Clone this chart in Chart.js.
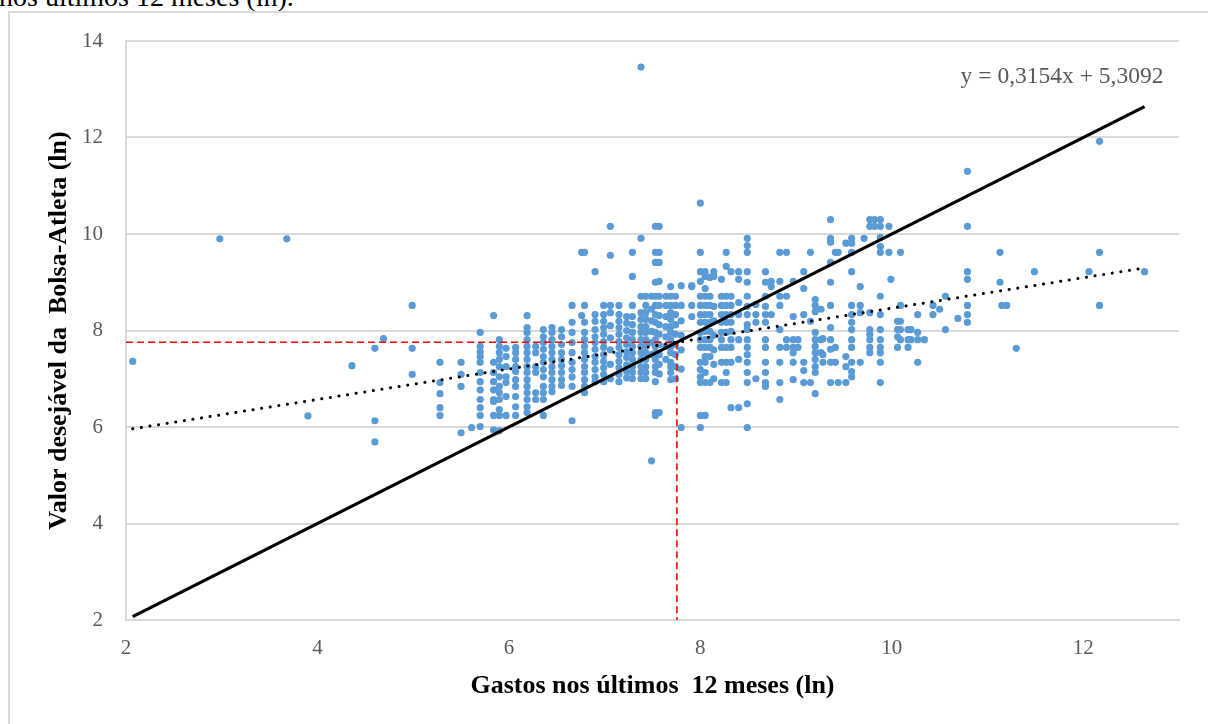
<!DOCTYPE html>
<html>
<head>
<meta charset="utf-8">
<script src="https://cdn.jsdelivr.net/npm/chart.js@4.4.1/dist/chart.umd.min.js"></script>
<style>
  html, body { margin:0; padding:0; background:#fff; width:1208px; height:724px; overflow:hidden; }
  #wrap { position:relative; width:1208px; height:724px; }
  #caption { position:absolute; left:-1px; top:-17px; font-family:"Liberation Serif", serif; font-size:28px; line-height:28px; color:#000; white-space:nowrap; }
  #frame { position:absolute; left:8px; top:11px; width:1300px; height:900px; border:2px solid #d9d9d9; box-sizing:border-box; }
  canvas { position:absolute; left:0; top:0; }
</style>
</head>
<body>
<div id="wrap">
  <div id="caption">nos últimos 12 meses (ln).</div>
  <div id="frame"></div>
  <canvas id="c" width="1208" height="724"></canvas>
</div>
<script>
// x values (ln of spending), each with its column of y values (ln of desired grant)
const gastosCols = [
  2.07, 2.98, 3.68, 3.90, 4.36, 4.60, 4.69, 4.99, 5.28, 5.50, 5.61, 5.70, 5.84, 5.90, 5.97,
  6.07, 6.19, 6.28, 6.36, 6.45, 6.55, 6.66, 6.76, 6.79, 6.90, 6.99, 7.06, 7.15, 7.23, 7.29,
  7.38, 7.43, 7.49, 7.53, 7.57, 7.64, 7.69, 7.74, 7.80, 7.91, 8.00, 8.05, 8.10, 8.14, 8.22,
  8.27, 8.32, 8.40, 8.49, 8.58, 8.68, 8.74, 8.83, 8.90, 8.97, 9.02, 9.08, 9.15, 9.20, 9.26,
  9.28, 9.36, 9.41, 9.44, 9.52, 9.58, 9.67, 9.71, 9.77, 9.82, 9.88, 9.97, 9.99, 10.06, 10.09,
  10.17, 10.20, 10.27, 10.34, 10.43, 10.50, 10.56, 10.69, 10.79, 11.13, 11.15, 11.20, 11.30, 11.49,
  12.06, 12.17, 12.64
];
const valorCols = [
  [7.36], [9.90], [9.90], [6.23], [7.27], [7.63, 6.13, 5.69], [7.83], [8.52, 7.63, 7.09],
  [7.34, 6.92, 6.69, 6.40, 6.24], [7.34, 7.09, 6.84, 5.88], [5.99],
  [7.96, 7.67, 7.56, 7.46, 7.34, 7.13, 6.94, 6.77, 6.57, 6.40, 6.24, 6.01],
  [8.31, 7.34, 7.13, 6.94, 6.77, 6.57, 6.53, 6.24, 5.94],
  [7.81, 7.67, 7.54, 7.40, 7.25, 7.04, 6.84, 6.71, 6.57, 6.36, 6.24, 5.92],
  [7.63, 7.46, 7.25, 7.04, 6.92, 6.63, 6.24],
  [7.65, 7.54, 7.40, 7.25, 7.15, 6.98, 6.84, 6.63, 6.42, 6.24],
  [8.31, 8.06, 7.96, 7.81, 7.67, 7.54, 7.40, 7.25, 7.13, 6.98, 6.84, 6.71, 6.57, 6.42, 6.30],
  [7.67, 7.54, 7.25, 7.13, 6.71, 6.57],
  [8.02, 7.87, 7.75, 7.61, 7.46, 7.34, 7.19, 7.04, 6.84, 6.71, 6.57, 6.24],
  [8.06, 7.96, 7.81, 7.67, 7.54, 7.40, 7.25, 7.13, 6.98, 6.84, 6.73],
  [8.02, 7.87, 7.71, 7.54, 7.40, 7.27, 7.13, 6.98, 6.86],
  [8.52, 8.17, 7.96, 7.75, 7.54, 7.34, 7.19, 7.04, 6.84, 6.13],
  [9.62, 8.31],
  [9.62, 8.52, 8.17, 7.96, 7.81, 7.67, 7.54, 7.40, 7.25, 7.13, 6.98, 6.84, 6.71],
  [9.22, 8.33, 8.19, 8.02, 7.87, 7.75, 7.61, 7.46, 7.34, 7.19, 7.04, 6.94],
  [8.52, 8.33, 8.19, 8.06, 7.92, 7.77, 7.65, 7.50, 7.36, 7.23, 7.09, 6.94],
  [10.16, 9.56, 8.52, 8.37, 8.10, 7.85, 7.60, 7.30, 7.00],
  [8.52, 8.33, 8.19, 8.06, 7.92, 7.77, 7.65, 7.50, 7.36, 7.23, 7.09, 6.94],
  [8.29, 8.15, 8.00, 7.85, 7.71, 7.56, 7.44, 7.29, 7.15, 7.02],
  [9.62, 9.12, 8.52, 8.29, 8.12, 7.96, 7.81, 7.67, 7.54, 7.40, 7.25, 7.13, 7.00],
  [13.46, 9.91, 8.71, 8.37, 8.23, 8.08, 7.96, 7.81, 7.67, 7.54, 7.40, 7.25, 7.13, 7.00],
  [8.71, 8.52, 8.37, 8.23, 8.08, 7.96, 7.81, 7.67, 7.54, 7.40, 7.25, 7.13, 7.00],
  [8.71, 8.44, 8.20, 7.98, 7.75, 7.50, 5.30],
  [10.16, 9.62, 9.41, 9.00, 8.71, 8.52, 8.33, 8.17, 7.96, 7.81, 7.67, 7.54, 7.40, 7.25, 7.13, 6.94, 6.30, 6.24],
  [10.16, 9.62, 9.41, 9.02, 8.71, 8.52, 8.31, 8.12, 7.92, 7.71, 7.50, 7.30, 7.10, 6.30],
  [8.71, 8.52, 8.29, 8.08, 7.87, 7.67, 7.40],
  [8.91, 8.71, 8.52, 8.37, 8.23, 8.08, 7.96, 7.81, 7.67, 7.54, 7.34, 7.25, 7.13, 6.98],
  [8.71, 8.52, 8.33, 8.12, 7.92, 7.71, 7.50, 7.25, 7.00],
  [8.93, 8.52, 8.20, 7.90, 7.60, 7.20, 5.99],
  [8.93, 8.91, 8.52, 8.29],
  [10.64, 9.62, 9.22, 9.02, 8.71, 8.52, 8.33, 8.17, 7.96, 7.81, 7.65, 7.34, 7.19, 7.04, 6.92, 6.24, 5.99],
  [9.22, 9.12, 8.87, 8.71, 8.52, 8.33, 8.17, 7.98, 7.81, 7.65, 7.46, 7.34, 7.13, 6.92, 6.24],
  [9.10, 8.71, 8.52, 8.33, 8.17, 7.98, 7.81, 7.65, 7.46, 6.92],
  [9.22, 9.12, 8.50, 8.20, 7.90, 7.60, 7.30, 7.00],
  [9.06, 8.71, 8.52, 8.33, 8.17, 7.96, 7.81, 7.65, 7.34, 6.92],
  [9.62, 9.33, 8.71, 8.52, 8.33, 8.17, 7.96, 7.65, 7.34, 7.13, 6.92],
  [9.22, 8.71, 8.52, 8.33, 8.17, 7.98, 7.81, 7.65, 7.34, 6.40],
  [9.22, 9.06, 8.58, 8.33, 7.81, 7.40, 6.40],
  [9.91, 9.76, 9.62, 9.22, 9.00, 8.71, 8.50, 8.33, 8.12, 8.02, 7.81, 7.65, 7.50, 7.34, 7.13, 6.92, 6.48, 5.99],
  [8.54, 8.33, 8.17, 7.00],
  [9.22, 9.00, 8.71, 8.50, 8.33, 8.17, 7.81, 7.65, 7.34, 7.13, 6.92, 6.84],
  [9.02, 8.91, 8.33],
  [9.62, 9.02, 8.71, 8.52, 8.02, 7.65, 7.34, 6.92, 6.57],
  [9.62, 8.71, 7.81, 7.65],
  [9.02, 8.29, 7.81, 7.65, 7.54, 7.34, 6.98],
  [7.81, 7.65],
  [9.22, 8.87, 8.33, 7.34, 7.17, 6.92],
  [9.62, 8.19, 6.92],
  [8.64, 8.52, 8.39, 7.96, 7.81, 7.67, 7.54, 7.40, 7.25, 7.13, 6.69],
  [8.44, 7.81, 7.54],
  [7.83, 7.50, 7.34],
  [10.30, 9.91, 9.83, 9.41, 9.00, 8.52, 8.06, 7.81, 7.61, 7.34, 6.92],
  [9.62, 7.65, 7.34],
  [9.62, 6.92],
  [9.81, 7.46, 7.25, 6.92],
  [9.91, 9.81, 9.62, 9.22, 8.52, 8.33, 8.17, 8.02, 7.81, 7.65, 7.34, 7.15, 7.04],
  [8.91, 8.52, 8.37, 7.34],
  [9.91],
  [10.30, 10.16, 8.37, 8.02, 7.92, 7.81, 7.65, 7.54],
  [10.30, 10.16],
  [10.30, 10.16, 9.93, 9.74, 9.62, 8.71, 8.33, 8.02, 7.81, 7.65, 7.54, 7.34, 6.92],
  [10.16, 9.62],
  [9.06],
  [8.19, 8.02, 7.87, 7.65],
  [9.62, 8.52, 8.19, 8.02, 7.81],
  [8.02, 7.81, 7.65],
  [8.02, 7.81],
  [8.33, 7.96, 7.81, 7.34],
  [7.81],
  [8.52, 8.33],
  [8.44],
  [8.71, 8.02],
  [8.25],
  [11.30, 10.16, 9.22, 9.06, 8.52, 8.33, 8.17],
  [9.62, 9.00],
  [8.52],
  [8.52],
  [7.63],
  [9.22],
  [9.22],
  [11.92, 9.62, 8.52],
  [9.22]
];
// linear trendline from the picture's label
const trendSlope = 0.3154;
const trendIntercept = 5.3092;
const trendLabel = 'y = 0,3154x + 5,3092';
// axis texts and ticks
const xTitle = 'Gastos nos últimos  12 meses (ln)';
const yTitle = 'Valor desejável da  Bolsa-Atleta (ln)';
const xTicks = [2, 4, 6, 8, 10, 12];
const yTicks = [2, 4, 6, 8, 10, 12, 14];

const points = [];
gastosCols.forEach((x, i) => valorCols[i].forEach(y => points.push({x: x, y: y})));
const xMin = Math.min(...gastosCols), xMax = Math.max(...gastosCols);
const trendPts = [xMin, xMax].map(x => ({x: x, y: trendSlope * x + trendIntercept}));
const identityPts = [xMin, xMax].map(x => ({x: x, y: x}));
const cross = trendIntercept / (1 - trendSlope);
const redH = [{x: xTicks[0], y: cross}, {x: cross, y: cross}];
const redV = [{x: cross, y: cross}, {x: cross, y: yTicks[0]}];

const serif = '"Liberation Serif", "Times New Roman", serif';

const eqPlugin = {
  id: 'eq',
  afterDraw(chart) {
    const ctx = chart.ctx;
    ctx.save();
    ctx.font = '23.5px ' + serif;
    ctx.fillStyle = '#595959';
    ctx.textAlign = 'center';
    ctx.textBaseline = 'middle';
    ctx.fillText(trendLabel, chart.chartArea.right - 117, 77);
    ctx.restore();
  }
};

new Chart(document.getElementById('c'), {
  type: 'scatter',
  data: {
    datasets: [
      { type: 'line', data: identityPts, borderColor: '#000', borderWidth: 3.2, pointRadius: 0, fill: false, order: 1 },
      { type: 'line', data: trendPts, borderColor: '#000', borderWidth: 3, borderDash: [0.1, 8.6], borderCapStyle: 'round', pointRadius: 0, fill: false, order: 2 },
      { type: 'line', data: redH, borderColor: '#ff0000', borderWidth: 1.6, borderDash: [7, 4], pointRadius: 0, fill: false, order: 3 },
      { type: 'line', data: redV, borderColor: '#ff0000', borderWidth: 1.6, borderDash: [7, 4], pointRadius: 0, fill: false, order: 3 },
      { data: points, backgroundColor: '#5b9bd5', borderWidth: 0, pointRadius: 3.6, order: 10 }
    ]
  },
  options: {
    responsive: false,
    animation: false,
    layout: { padding: { left: 0, top: 41, right: 29, bottom: 0 } },
    plugins: { legend: { display: false }, tooltip: { enabled: false } },
    scales: {
      x: {
        type: 'linear', min: 2, max: 13,
        afterBuildTicks: s => { s.ticks = xTicks.map(v => ({value: v})); },
        afterFit: s => { s.height = 104; },
        grid: { display: false, drawTicks: false },
        border: { display: true, color: '#d9d9d9', width: 2 },
        ticks: { padding: 16, color: '#595959', font: { family: serif, size: 21 } },
        title: { display: true, text: xTitle, color: '#000', font: { family: serif, size: 26, weight: 'bold' }, padding: { top: 0, bottom: 22 } }
      },
      y: {
        type: 'linear', min: 2, max: 14,
        afterBuildTicks: s => { s.ticks = yTicks.map(v => ({value: v})); },
        afterFit: s => { s.width = 126; },
        grid: { color: '#d9d9d9', lineWidth: 2, drawTicks: false },
        border: { display: true, color: '#d9d9d9', width: 2 },
        ticks: { padding: 23, color: '#595959', font: { family: serif, size: 21 } },
        title: { display: true, text: yTitle, color: '#000', font: { family: serif, size: 26, weight: 'bold' }, padding: { top: 44, bottom: 0 } }
      }
    }
  },
  plugins: [eqPlugin]
});
</script>
</body>
</html>
